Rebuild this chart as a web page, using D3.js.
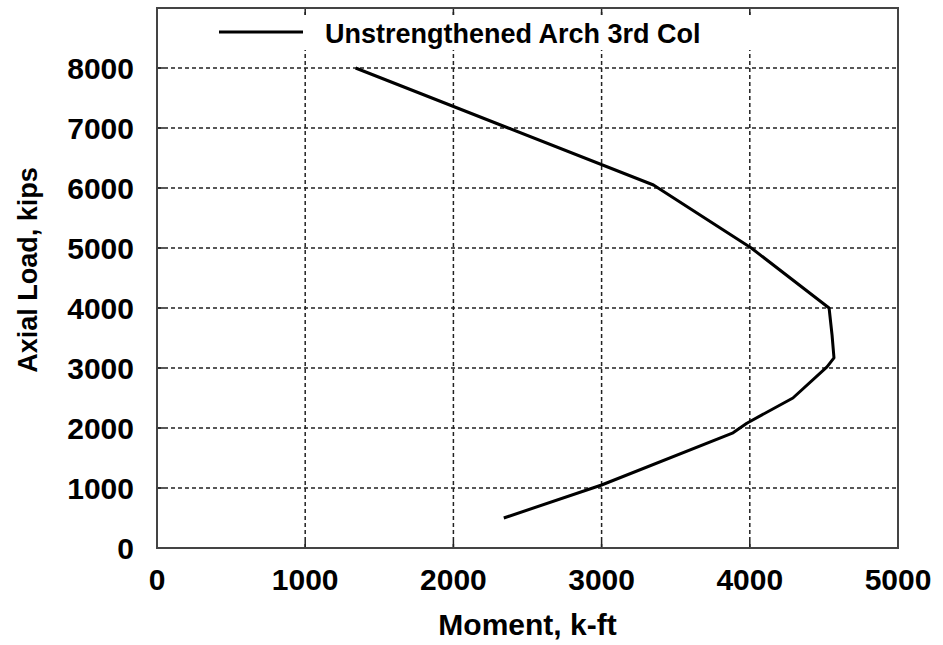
<!DOCTYPE html>
<html>
<head>
<meta charset="utf-8">
<script src="https://cdn.jsdelivr.net/npm/d3@7"></script>
<style>
  body { margin: 0; background: #fff; }
  text { font-family: "Liberation Sans", Arial, sans-serif; fill: #000; }
</style>
</head>
<body>
<div class="chart"></div>
<script>
  // data
  var moment = [1340, 2370, 3350, 4010, 4535, 4555, 4568, 4521, 4291, 3980, 3887, 3000, 2340];
  var load   = [8000, 7000, 6050, 5000, 4000, 3550, 3170, 3020, 2500, 2080, 1920, 1050, 500];
  var xTicks = [0, 1000, 2000, 3000, 4000, 5000];
  var yTicks = [0, 1000, 2000, 3000, 4000, 5000, 6000, 7000, 8000];
  var seriesName = "Unstrengthened Arch 3rd Col";

  var width = 943, height = 645,
    margin = {top: 8, left: 157, right: 45, bottom: 97};

  var svg = d3.select(".chart").append("svg")
    .attr("width", width)
    .attr("height", height);

  var x = d3.scaleLinear().domain([0, 5000]).range([margin.left, width - margin.right]);
  var y = d3.scaleLinear().domain([0, 9000]).range([height - margin.bottom, margin.top]);

  var data = moment.map(function(m, i) { return {m: m, p: load[i]}; });

  // grid
  var grid = svg.append("g").attr("stroke", "#222").attr("stroke-width", 1.5).attr("stroke-dasharray", "4,3");
  grid.selectAll("line.h").data(yTicks.slice(1)).enter().append("line")
    .attr("x1", x(0)).attr("x2", x(5000))
    .attr("y1", function(d) { return y(d); }).attr("y2", function(d) { return y(d); });
  grid.selectAll("line.v").data(xTicks.slice(1, -1)).enter().append("line")
    .attr("y1", y(0)).attr("y2", y(9000))
    .attr("x1", function(d) { return x(d); }).attr("x2", function(d) { return x(d); });

  // legend box hides grid behind it
  svg.append("rect")
    .attr("x", x(0) + 1).attr("y", 15)
    .attr("width", x(5000) - x(0) - 2).attr("height", 35)
    .attr("fill", "#fff");

  // ticks pointing inward
  var ticks = svg.append("g").attr("stroke", "#222").attr("stroke-width", 1.5);
  ticks.selectAll("line.t").data(xTicks).enter().append("line")
    .attr("x1", function(d) { return x(d); }).attr("x2", function(d) { return x(d); })
    .attr("y1", y(9000)).attr("y2", y(9000) + 7);
  ticks.selectAll("line.b").data(xTicks).enter().append("line")
    .attr("x1", function(d) { return x(d); }).attr("x2", function(d) { return x(d); })
    .attr("y1", y(0)).attr("y2", y(0) - 7);
  ticks.selectAll("line.l").data(yTicks).enter().append("line")
    .attr("y1", function(d) { return y(d); }).attr("y2", function(d) { return y(d); })
    .attr("x1", x(0)).attr("x2", x(0) + 7);

  // frame
  svg.append("rect")
    .attr("x", x(0)).attr("y", y(9000))
    .attr("width", x(5000) - x(0)).attr("height", y(0) - y(9000))
    .attr("fill", "none").attr("stroke", "#444").attr("stroke-width", 2);

  // curve
  var line = d3.line()
    .x(function(d) { return x(d.m); })
    .y(function(d) { return y(d.p); });
  svg.append("path")
    .datum(data)
    .attr("d", line)
    .attr("fill", "none")
    .attr("stroke", "#000")
    .attr("stroke-width", 3)
    .attr("stroke-linejoin", "round");

  // tick labels
  svg.append("g").selectAll("text").data(xTicks).enter().append("text")
    .attr("x", function(d) { return x(d); })
    .attr("y", 590)
    .attr("text-anchor", "middle")
    .style("font-size", "30px").style("font-weight", "bold")
    .text(function(d) { return d; });
  svg.append("g").selectAll("text").data(yTicks).enter().append("text")
    .attr("x", 134)
    .attr("y", function(d) { return y(d); })
    .attr("dy", "0.36em")
    .attr("text-anchor", "end")
    .style("font-size", "30px").style("font-weight", "bold")
    .text(function(d) { return d; });

  // axis titles
  svg.append("text")
    .attr("x", (x(0) + x(5000)) / 2)
    .attr("y", 635)
    .attr("text-anchor", "middle")
    .style("font-size", "30px").style("font-weight", "bold")
    .text("Moment, k-ft");
  svg.append("text")
    .attr("transform", "translate(37," + ((y(0) + y(9000)) / 2 - 8) + ") rotate(-90)")
    .attr("text-anchor", "middle")
    .style("font-size", "27px").style("font-weight", "bold")
    .text("Axial Load, kips");

  // legend
  svg.append("line")
    .attr("x1", 219).attr("x2", 303).attr("y1", 32).attr("y2", 32)
    .attr("stroke", "#000").attr("stroke-width", 3);
  svg.append("text")
    .attr("x", 325).attr("y", 43)
    .style("font-size", "27px").style("font-weight", "bold")
    .text(seriesName);
</script>
</body>
</html>
